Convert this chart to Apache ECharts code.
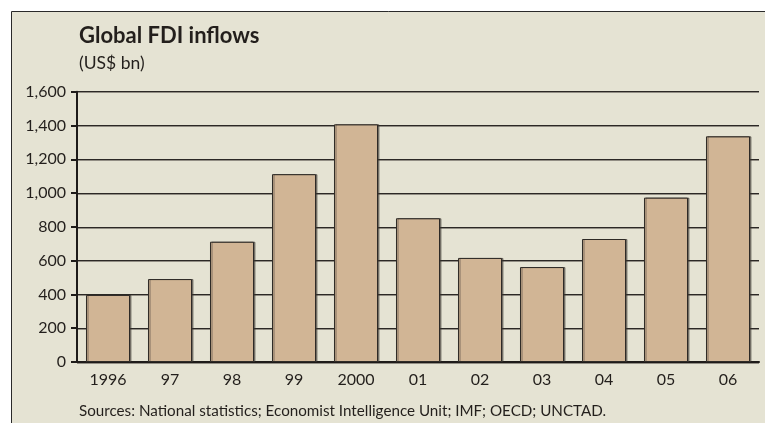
<!DOCTYPE html>
<html>
<head>
<meta charset="utf-8">
<style>
  html, body { margin: 0; padding: 0; background: #ffffff; }
  #chart { width: 765px; height: 423px; }
</style>
<script src="https://cdn.jsdelivr.net/npm/echarts@6/dist/echarts.min.js"></script>
</head>
<body>
<div id="chart"></div>
<script>
// Global FDI inflows, US$ bn
const years = ['1996', '97', '98', '99', '2000', '01', '02', '03', '04', '05', '06'];
const inflows = [397, 491, 712, 1112, 1407, 851, 616, 562, 728, 973, 1336];
const yTicks = { min: 0, max: 1600, step: 200 };

const FONT = 'Lato, "Liberation Sans", sans-serif';
const INK = '#231f1c';

const chart = echarts.init(document.getElementById('chart'), null, { renderer: 'canvas' });

function label(text, x, y, font) {
  return {
    type: 'text',
    style: { text: text, x: x, y: y, font: font, fill: INK, align: 'left', verticalAlign: 'middle' }
  };
}

chart.setOption({
  backgroundColor: '#ffffff',
  animation: false,
  graphic: [
    {
      type: 'rect',
      z: -10,
      shape: { x: 11.5, y: 11.5, width: 770, height: 430 },
      style: { fill: '#e5e3d3', stroke: '#2a2a2a', lineWidth: 1 }
    },
    label('Global FDI inflows', 79, 35.5, 'bold 22px ' + FONT),
    label('(US$ bn)', 79, 63.5, '17.5px ' + FONT),
    label('Sources: National statistics; Economist Intelligence Unit; IMF; OECD; UNCTAD.',
          79, 411, '15.2px ' + FONT)
  ],
  grid: { left: 77, right: 6, top: 91.7, bottom: 61, containLabel: false },
  xAxis: {
    type: 'category',
    data: years,
    axisLine: { show: true, lineStyle: { color: '#1e1b19', width: 2 } },
    axisTick: { show: false },
    axisLabel: { color: INK, fontFamily: FONT, fontSize: 16, margin: 10 }
  },
  yAxis: {
    type: 'value',
    min: yTicks.min,
    max: yTicks.max,
    interval: yTicks.step,
    axisLine: { show: true, lineStyle: { color: '#1e1b19', width: 2 } },
    axisTick: { show: true, length: 6, lineStyle: { color: '#1e1b19', width: 2 } },
    axisLabel: {
      color: INK, fontFamily: FONT, fontSize: 16, margin: 11,
      formatter: v => v.toLocaleString('en-US')
    },
    splitLine: {
      show: true,
      lineStyle: {
        color: '#2b2825', width: 1,
        shadowColor: 'rgba(90,85,80,0.6)', shadowOffsetY: 1
      }
    }
  },
  series: [{
    type: 'bar',
    data: inflows,
    barCategoryGap: '29%',
    itemStyle: {
      color: '#d1b595',
      borderColor: '#2e2a26',
      borderWidth: 1,
      shadowColor: 'rgba(60,55,50,0.55)',
      shadowOffsetX: 1.5,
      shadowOffsetY: 0
    }
  }]
});
</script>
</body>
</html>
